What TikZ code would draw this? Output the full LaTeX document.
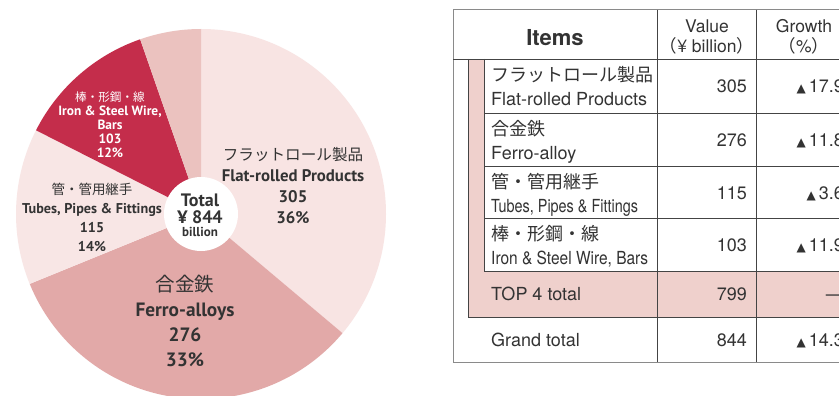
\documentclass[tikz,border=0pt]{standalone}
\usepackage{fontspec}
\setmainfont{TeX Gyre Heros}
\newfontfamily\jp{Noto Sans CJK JP}
\newfontfamily\pie{PT Sans}
\newfontfamily\sym{DejaVu Sans}
\usetikzlibrary{positioning}
\definecolor{flatc}{HTML}{F8E4E3}
\definecolor{ferroc}{HTML}{E2A9A8}
\definecolor{tubec}{HTML}{F8E6E5}
\definecolor{barc}{HTML}{C42D4B}
\definecolor{restc}{HTML}{EBC2BF}
\definecolor{pinkc}{HTML}{EFD0CC}
\definecolor{txt}{HTML}{333333}
\definecolor{rule}{HTML}{444444}
\definecolor{frame}{HTML}{8A8A8A}
\newcommand\tri{{\sym\fontsize{12}{12}\selectfont ▲}}
\newcommand\fs[2]{\fontsize{#1}{#2}\selectfont}

\begin{document}
\begin{tikzpicture}[x=1pt, y=-1pt,
  item/.style={anchor=base west, inner sep=0, text=txt, font=\fs{18}{20}},
  num/.style={anchor=base east, inner sep=0, text=txt, font=\fs{18}{20}},
  head/.style={anchor=base, inner sep=0, text=txt, font=\fs{17.5}{20}},
  lab/.style={align=center, inner sep=0, text=txt, font=\pie\bfseries}]
\clip (0,0) rectangle (839,396);
\fill[white] (0,0) rectangle (839,396);
\coordinate (c) at (201,214);
\foreach \a/\b/\col in {-90/40.1/flatc, 40.1/157.8/ferroc, 157.8/206.9/tubec, 206.9/250.8/barc, 250.8/270/restc}
 \fill[\col] (c) -- ++(\a:185) arc[start angle=\a, end angle=\b, radius=185] -- cycle;
\node[circle, fill=white, minimum size=74, inner sep=0] (tot) at (c) {};
\node[lab, anchor=base, font=\pie\bfseries\fs{18}{20}] (total) at (200,206) {Total};
\node[lab, anchor=base, font=\pie\bfseries\fs{18}{20}] (yen) at (200,223) {¥ 844};
\node[lab, anchor=base, font=\pie\bfseries\fs{13}{15}] (bil) at (200,236.5) {billion};
\node[lab, font=\pie\bfseries\fs{16.8}{21}] (flat) at (293,186)
 {{\jp\mdseries\fs{15.6}{21}フラットロール製品}\\Flat-rolled Products\\305\\36\%};
\node[lab, font=\pie\bfseries\fs{19.3}{25}] (ferro) at (185,321)
 {{\jp\mdseries\fs{19.5}{25}合金鉄}\\Ferro-alloys\\276\\33\%};
\node[lab, font=\pie\bfseries\fs{14.2}{19}] (tube) at (92,217)
 {{\jp\mdseries\fs{13.5}{19}管・管用継手}\\Tubes, Pipes \& Fittings\\115\\14\%};
\node[lab, text=white, font=\pie\bfseries\fs{13.4}{14}] (bar) at (110,125)
 {{\jp\mdseries\fs{11.6}{15}棒・形鋼・線}\\Iron \& Steel Wire,\\Bars\\103\\12\%};
\fill[pinkc] (468,59) rectangle (484,317);
\fill[pinkc] (468,271) rectangle (852,317);
\draw[frame, line width=1] (852,10) -- (453,10) -- (453,362) -- (852,362);
\draw[rule, line width=.9] (453,59) -- (852,59);
\foreach \y in {113,166,218,271}
 \draw[rule, line width=.9] (484,\y) -- (852,\y);
\draw[rule, line width=.9] (484,59) -- (484,271);
\draw[rule, line width=.9] (468,59) -- (468,317) -- (852,317);
\draw[rule, line width=.9] (657,10) -- (657,362);
\draw[rule, line width=.9] (756,10) -- (756,362);
\node[head, font=\bfseries\fs{22}{24}] (items) at (555,46) {Items};
\node[head] (value) at (707,33) {Value};
\node[head] (unit) at (707,53) {{\jp （}¥ billion{\jp ）}};
\node[head] (growth) at (804,33) {Growth};
\node[head] (pct) at (804,53) {{\jp （}\%{\jp ）}};
\foreach \t/\jpn/\en/\v/\g in {
 59/{フラットロール製品}/{Flat-rolled Products}/305/17.9,
 113/{合金鉄}/{Ferro-alloy}/276/11.8,
 166/{管・管用継手}/{\scalebox{.8}[1]{Tubes, Pipes \& Fittings}}/115/3.6,
 218/{棒・形鋼・線}/{\scalebox{.86}[1]{Iron \& Steel Wire, Bars}}/103/11.9} {
 \node[item] (jp\v) at (491,\t+22.5) {\jp\jpn};
 \node[item] (en\v) at (491,\t+46.5) {\en};
 \node[num] (val\v) at (747,\t+33.5) {\v};
 \node[num] (gr\v) at (844,\t+33.5) {\tri\,\g};
}
\node[item] (top) at (491,300.5) {TOP 4 total};
\node[num] (val799) at (747,300.5) {799};
\node[num] (gr799) at (844,300.5) {—};
\node[item] (grand) at (491,346) {Grand total};
\node[num] (val844) at (747,346) {844};
\node[num] (gr844) at (844,346) {\tri\,14.3};
\end{tikzpicture}
\end{document}
